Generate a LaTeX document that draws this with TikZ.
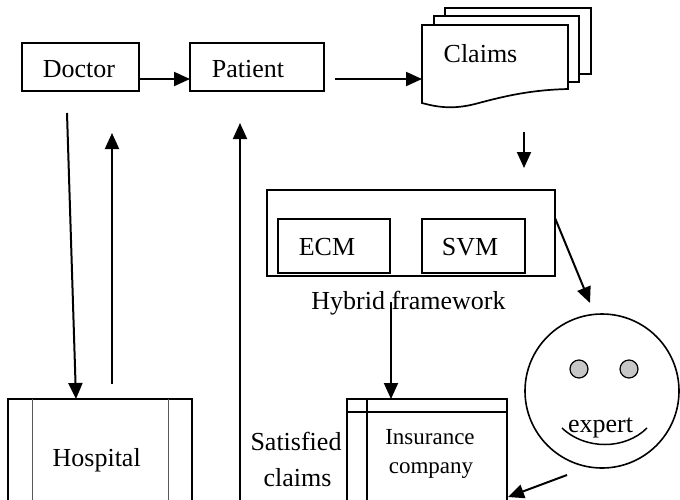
\documentclass[tikz,border=0pt]{standalone}
\usepackage{fontspec}
\setmainfont{Liberation Serif}
\usetikzlibrary{arrows.meta,calc}
\begin{document}
\begin{tikzpicture}[x=1pt,y=-1pt,
  boxline/.style={draw,line width=1.7pt},
  thinline/.style={draw,line width=1pt,black!65},
  conn/.style={line width=2pt,-{Triangle[length=16pt,width=14pt]}},
  txt/.style={anchor=base,inner sep=0pt,font=\fontsize{26}{30}\selectfont},
  smalltxt/.style={anchor=base,inner sep=0pt,font=\fontsize{23}{27}\selectfont},
  rbox/.style={boxline,inner sep=0pt,fill=white}]
\useasboundingbox (0,0) rectangle (680,499);
\clip (0,0) rectangle (680,499);

% top row boxes
\node[rbox,minimum width=117pt,minimum height=48pt] (doctor) at (80.5,67) {};
\node[txt] (doctorT) at (79,77) {Doctor};
\node[rbox,minimum width=134pt,minimum height=48pt] (patient) at (257,67) {};
\node[txt] (patientT) at (248,77) {Patient};

% claims (stack of documents)
\draw[boxline,fill=white] (445,8) rectangle (591,74);
\draw[boxline,fill=white] (434,16) rectangle (579,82);
\draw[boxline,fill=white] (422,25) -- (568,25) -- (568,89)
  .. controls (530,90) and (505,96) .. (475,104)
  .. controls (455,109) and (440,108) .. (422,103) -- cycle;
\node[txt] (claimsT) at (480.5,62) {Claims};

% hybrid framework
\node[rbox,minimum width=288pt,minimum height=86pt] (hybrid) at (411,233) {};
\node[boxline,line width=1.4pt,inner sep=0pt,minimum width=112pt,minimum height=54pt] (ecm) at (334,246) {};
\node[txt] (ecmT) at (327,255) {ECM};
\node[boxline,line width=1.4pt,inner sep=0pt,minimum width=103pt,minimum height=54pt] (svm) at (473.5,246) {};
\node[txt] (svmT) at (470,255) {SVM};
\node[txt] (hybridT) at (408.5,309) {Hybrid framework};

% expert smiley
\node[draw,line width=1.6pt,circle,minimum size=154pt,inner sep=0pt] (expert) at (602,391) {};
\node[draw,line width=1.2pt,circle,fill=black!22,minimum size=18pt,inner sep=0pt] (eyeL) at (579,369) {};
\node[draw,line width=1.2pt,circle,fill=black!22,minimum size=18pt,inner sep=0pt] (eyeR) at (629,369) {};
\draw[line width=1.5pt] (562,428) .. controls (585,450) and (625,450) .. (647,428);
\node[txt] (expertT) at (600.5,432) {expert};

% hospital
\draw[boxline] (8,520) -- (8,399) -- (192,399) -- (192,520);
\draw[thinline] (32,399) -- (32,520);
\draw[thinline] (168,399) -- (168,520);
\node[txt] (hospitalT) at (96.7,466) {Hospital};
\coordinate (hospTop) at (76,399);

% insurance company
\draw[boxline] (347,520) -- (347,399) -- (507,399) -- (507,520);
\draw[line width=1.3pt] (347,412) -- (507,412);
\draw[line width=1.3pt] (367,399) -- (367,520);
\node[smalltxt] (insT1) at (430,444) {Insurance};
\node[smalltxt] (insT2) at (431,473) {company};

% satisfied claims
\node[txt] (satT1) at (296,450.7) {Satisfied};
\node[txt] (satT2) at (297.5,486.7) {claims};

% connector end points
\coordinate (dpA) at (139,79);
\coordinate (dpB) at (190,79);
\coordinate (pcA) at (335,79);
\coordinate (pcB) at (422,79);
\coordinate (chA) at (524,132);
\coordinate (chB) at (524,168);
\coordinate (heA) at (555,218);
\coordinate (heB) at (590,303);
\coordinate (hiA) at (391,302);
\coordinate (hiB) at (391,399);
\coordinate (eiA) at (567,475);
\coordinate (eiB) at (508,497);
\coordinate (dhA) at (67,113);
\coordinate (hdA) at (112,384);
\coordinate (hdB) at (112,133);
\coordinate (spA) at (240,520);
\coordinate (spB) at (240,123);

% connectors
\draw[conn] (dpA) -- (dpB);
\draw[conn] (pcA) -- (pcB);
\draw[conn] (chA) -- (chB);
\draw[conn] (heA) -- (heB);
\draw[conn] (hiA) -- (hiB);
\draw[conn] (eiA) -- (eiB);
\draw[conn] (dhA) -- (hospTop);
\draw[conn] (hdA) -- (hdB);
\draw[conn] (spA) -- (spB);
\end{tikzpicture}
\end{document}
